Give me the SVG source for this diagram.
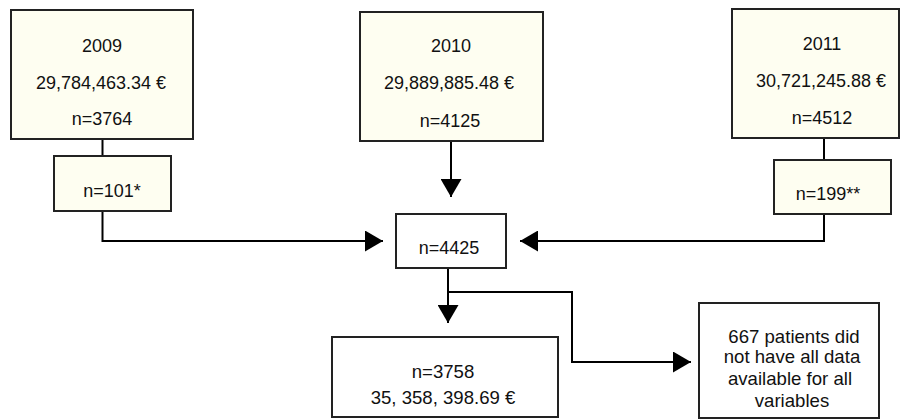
<svg xmlns="http://www.w3.org/2000/svg" width="901" height="420" viewBox="0 0 901 420">
<style>
.box{fill:#fefef1;stroke:#222;stroke-width:2}
.wbox{fill:#fff;stroke:#222;stroke-width:2}
.t{font-family:"Liberation Sans",Arial,sans-serif;font-size:18px;fill:#111;text-anchor:middle}
.b{font-size:18.6px}
.c{fill:none;stroke:#000;stroke-width:2}
</style>
<defs>
<marker id="ah" markerUnits="userSpaceOnUse" markerWidth="18" markerHeight="21" refX="18" refY="10.5" orient="auto">
<path d="M0,0 L18,10.5 L0,21 z" fill="#000"/>
</marker>
</defs>
<rect width="901" height="420" fill="#fff"/>
<g id="connectors">
<path class="c" d="M102.5,139 V156"/>
<path class="c" d="M102.5,211 V241 H383" marker-end="url(#ah)"/>
<path class="c" d="M451,141 V197" marker-end="url(#ah)"/>
<path class="c" d="M824,138 V160"/>
<path class="c" d="M824,214 V241 H520" marker-end="url(#ah)"/>
<path class="c" d="M448,268 V323" marker-end="url(#ah)"/>
<path class="c" d="M448,292 H572 V362 H691" marker-end="url(#ah)"/>
</g>
<g id="n2009">
<rect class="box" x="11" y="10" width="182" height="129"/>
<text class="t" x="102" y="52">2009</text>
<text class="t" x="101" y="89">29,784,463.34 €</text>
<text class="t" x="102" y="125">n=3764</text>
</g>
<g id="n101">
<rect class="box" x="54" y="156" width="117" height="55"/>
<text class="t" x="112" y="197">n=101*</text>
</g>
<g id="n2010">
<rect class="box" x="360" y="12" width="183" height="129"/>
<text class="t" x="451" y="52">2010</text>
<text class="t" x="449" y="89">29,889,885.48 €</text>
<text class="t" x="450" y="127">n=4125</text>
</g>
<g id="n2011">
<rect class="box" x="732" y="9" width="167" height="129"/>
<text class="t" x="822" y="50">2011</text>
<text class="t" x="821" y="87">30,721,245.88 €</text>
<text class="t" x="822" y="124">n=4512</text>
</g>
<g id="n199">
<rect class="box" x="774" y="160" width="117" height="54"/>
<text class="t" x="828" y="200">n=199**</text>
</g>
<g id="n4425">
<rect class="wbox" x="396" y="214" width="110" height="54"/>
<text class="t" x="449" y="254">n=4425</text>
</g>
<g id="n3758">
<rect class="wbox" x="332" y="337" width="226" height="80"/>
<text class="t b" x="443" y="378">n=3758</text>
<text class="t b" x="443" y="404">35, 358, 398.69 €</text>
</g>
<g id="n667">
<rect class="wbox" x="699" y="303" width="180" height="115"/>
<text class="t b" x="794" y="343">667 patients did</text>
<text class="t b" x="792" y="363">not have all data</text>
<text class="t b" x="790" y="385">available for all</text>
<text class="t b" x="792" y="407">variables</text>
</g>
</svg>
